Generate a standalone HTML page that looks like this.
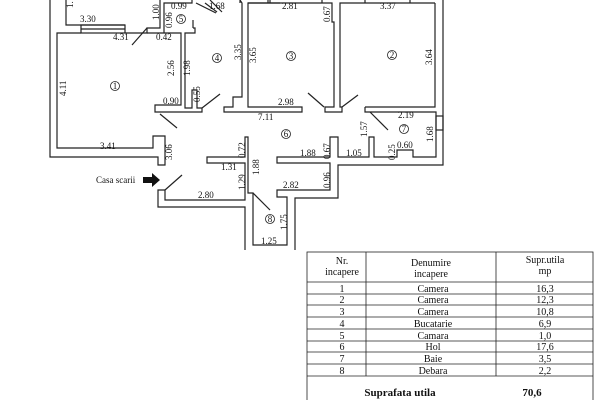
<!DOCTYPE html>
<html><head><meta charset="utf-8"><style>
body{margin:0;background:#fff;width:600px;height:400px;overflow:hidden}
svg{display:block}
text{font-family:"Liberation Serif",serif;font-size:9px;fill:#111}
.tb text{font-size:10px}
</style></head><body>
<svg width="600" height="400" viewBox="0 0 600 400">
<g fill="none" stroke="#222" stroke-width="1.2">
<polyline points="50,0 50,157 158,157 158,165 165,165 165,136 153,136 153,148 57,148 57,33 81,33"/>
<polyline points="66,0 66,25 125,25"/>
<rect x="81" y="25" width="44" height="8"/>
<line x1="81" y1="29" x2="125" y2="29"/>
<polyline points="125,33 147,33 147,28 160,28 160,0"/>
<polyline points="147,33 181,33 181,105 155,105 155,112 202,112 202,108 197,108 197,90 192,90 192,108 185,108 185,33 195,33 195,28 193,28"/>
<polyline points="164,33 164,3 192,3 192,0"/>
<line x1="193" y1="20" x2="193" y2="28"/>
<line x1="147" y1="28" x2="132" y2="45"/>
<line x1="202" y1="108" x2="220" y2="94"/>
<line x1="160" y1="114" x2="177" y2="128"/>
<line x1="196" y1="3" x2="216" y2="13"/>
<line x1="205" y1="3" x2="217" y2="12"/>
<line x1="210" y1="0" x2="222" y2="12"/>
<polyline points="240,0 242,3 242,97 233,97 233,107 224,107 224,112 302,112 302,107 248,107 248,3 280,3"/>
<line x1="268" y1="3" x2="268" y2="0"/>
<line x1="240" y1="0" x2="240" y2="3"/>
<polyline points="248,3 332,3 332,22 334,22 334,107 325,107 325,112 342,112 342,107 340,107 340,3 435,3"/>
<line x1="308" y1="93" x2="324" y2="107"/>
<line x1="342" y1="107" x2="358" y2="95"/>
<line x1="365" y1="0" x2="365" y2="3"/><line x1="410" y1="0" x2="410" y2="3"/>
<line x1="270" y1="0" x2="270" y2="3"/><line x1="322" y1="0" x2="322" y2="3"/>
<polyline points="443,0 443,165 338,165 338,198 295,198 295,250"/>
<polyline points="365,107 365,112 375,112"/>
<polyline points="435,3 435,107 365,107"/>
<polyline points="375,112 436,112 436,157 413,157 413,150 397,150 397,157 374,157 374,137 369,137 369,157 338,157 338,137 330,137 330,157 277,157 277,163 330,163 330,190 277,190 277,197 287,197 287,245 253,245 253,193 248,193 248,137 245,137 245,157 207,157 207,163 245,163 245,200 165,200 165,190 158,190 158,207 245,207 245,250"/>
<rect x="436" y="116" width="7" height="14"/>
<line x1="370" y1="112" x2="388" y2="130"/>
<line x1="253" y1="193" x2="270" y2="210"/>
<line x1="165" y1="190" x2="182" y2="175"/>
</g>
<polygon points="143,177 152,177 152,173 160,180 152,187 152,183 143,183" fill="#111"/>
<g>
<text x="96" y="183" font-size="10">Casa scarii</text>
<text x="80" y="22">3.30</text><text x="113" y="40">4.31</text>
<text x="156" y="40">0.42</text><text x="171" y="9">0.99</text><text x="209" y="9">1.68</text>
<text x="282" y="9">2.81</text><text x="380" y="9">3.37</text>
<text x="100" y="149">3.41</text><text x="163" y="104">0.90</text>
<text x="278" y="105">2.98</text><text x="258" y="120">7.11</text>
<text x="300" y="156">1.88</text><text x="346" y="156">1.05</text>
<text x="221" y="170">1.31</text><text x="198" y="198">2.80</text>
<text x="283" y="188">2.82</text><text x="261" y="244">1.25</text>
<text x="398" y="118">2.19</text><text x="397" y="148">0.60</text>
<text transform="translate(66,96) rotate(-90)">4.11</text>
<text transform="translate(174,76) rotate(-90)">2.56</text>
<text transform="translate(190,76) rotate(-90)">1.98</text>
<text transform="translate(200,102) rotate(-90)">0.55</text>
<text transform="translate(241,60) rotate(-90)">3.35</text>
<text transform="translate(256,63) rotate(-90)">3.65</text>
<text transform="translate(330,22) rotate(-90)">0.67</text>
<text transform="translate(432,65) rotate(-90)">3.64</text>
<text transform="translate(433,142) rotate(-90)">1.68</text>
<text transform="translate(367,137) rotate(-90)">1.57</text>
<text transform="translate(395,160) rotate(-90)">0.25</text>
<text transform="translate(330,159) rotate(-90)">0.67</text>
<text transform="translate(330,188) rotate(-90)">0.96</text>
<text transform="translate(172,160) rotate(-90)">3.06</text>
<text transform="translate(245,158) rotate(-90)">0.72</text>
<text transform="translate(259,175) rotate(-90)">1.88</text>
<text transform="translate(245,190) rotate(-90)">1.29</text>
<text transform="translate(287,230) rotate(-90)">1.75</text>
<text transform="translate(159,20) rotate(-90)">1.00</text>
<text transform="translate(172,28) rotate(-90)">0.96</text>
<text transform="translate(73,8) rotate(-90)">1.</text>
</g>
<g fill="none" stroke="#222" stroke-width="0.8">
<circle cx="115" cy="86" r="4.5"/><circle cx="392" cy="55" r="4.5"/><circle cx="291" cy="56" r="4.5"/>
<circle cx="217" cy="58" r="4.5"/><circle cx="181" cy="19" r="4.5"/><circle cx="286" cy="134" r="4.5"/>
<circle cx="404" cy="129" r="4.5"/><circle cx="270" cy="219" r="4.5"/>
</g>
<g text-anchor="middle">
<text x="115" y="89" font-size="7">1</text><text x="392" y="58" font-size="7">2</text><text x="291" y="59" font-size="7">3</text>
<text x="217" y="61" font-size="7">4</text><text x="181" y="22" font-size="7">5</text><text x="286" y="137" font-size="7">6</text>
<text x="404" y="132" font-size="7">7</text><text x="270" y="222" font-size="7">8</text>
</g>
<g stroke="#222" stroke-width="0.8" fill="none">
<rect x="307" y="252" width="286" height="150"/>
<line x1="366" y1="252" x2="366" y2="376"/><line x1="496" y1="252" x2="496" y2="376"/>
<line x1="307" y1="282" x2="593" y2="282"/><line x1="307" y1="294" x2="593" y2="294"/>
<line x1="307" y1="305" x2="593" y2="305"/><line x1="307" y1="317" x2="593" y2="317"/>
<line x1="307" y1="329" x2="593" y2="329"/><line x1="307" y1="341" x2="593" y2="341"/>
<line x1="307" y1="352" x2="593" y2="352"/><line x1="307" y1="364" x2="593" y2="364"/>
<line x1="307" y1="376" x2="593" y2="376"/>
</g>
<g text-anchor="middle" class="tb">
<text x="342" y="264">Nr.</text><text x="342" y="275">incapere</text>
<text x="431" y="266">Denumire</text><text x="431" y="277">incapere</text>
<text x="545" y="263">Supr.utila</text><text x="545" y="274">mp</text>
<text x="342" y="292">1</text><text x="433" y="292">Camera</text><text x="545" y="292">16,3</text>
<text x="342" y="303">2</text><text x="433" y="303">Camera</text><text x="545" y="303">12,3</text>
<text x="342" y="315">3</text><text x="433" y="315">Camera</text><text x="545" y="315">10,8</text>
<text x="342" y="327">4</text><text x="433" y="327">Bucatarie</text><text x="545" y="327">6,9</text>
<text x="342" y="339">5</text><text x="433" y="339">Camara</text><text x="545" y="339">1,0</text>
<text x="342" y="350">6</text><text x="433" y="350">Hol</text><text x="545" y="350">17,6</text>
<text x="342" y="362">7</text><text x="433" y="362">Baie</text><text x="545" y="362">3,5</text>
<text x="342" y="374">8</text><text x="433" y="374">Debara</text><text x="545" y="374">2,2</text>
<text x="400" y="396" font-weight="bold" style="font-size:11px">Suprafata utila</text>
<text x="532" y="396" font-weight="bold" style="font-size:11px">70,6</text>
</g>
</svg>
</body></html>
